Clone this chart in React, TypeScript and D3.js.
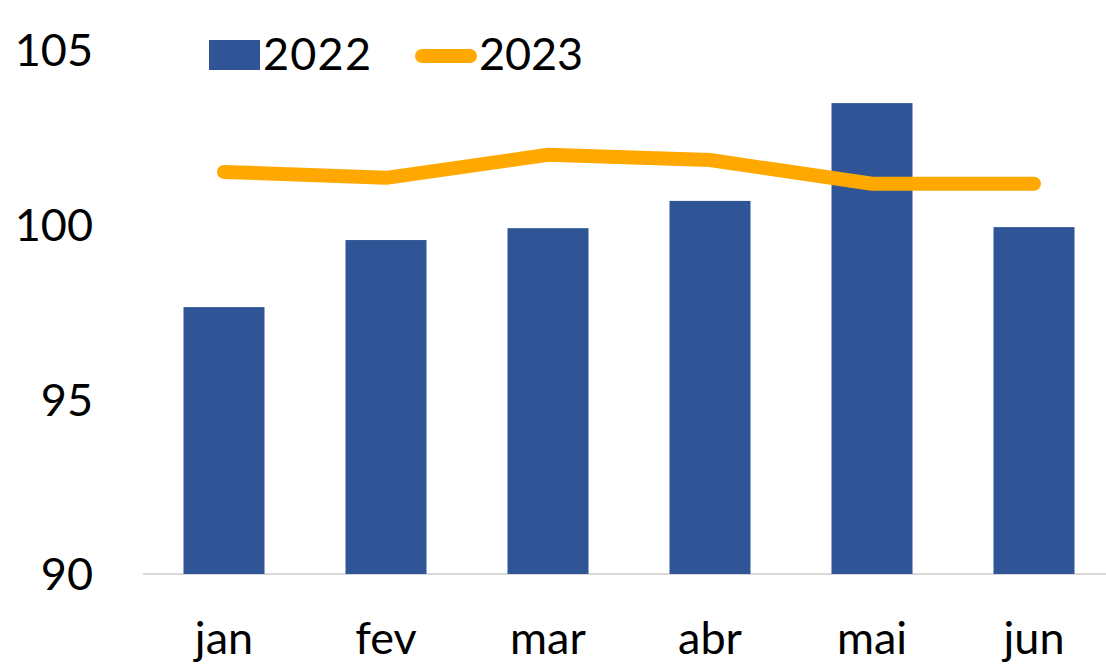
import React, { useEffect, useRef } from "react";
import * as d3 from "d3";

const months = ["jan", "fev", "mar", "abr", "mai", "jun"];
const values2022 = [97.64, 99.56, 99.9, 100.68, 103.48, 99.93];
const values2023 = [101.51, 101.34, 102.0, 101.85, 101.17, 101.17];
const yTicks = [90, 95, 100, 105];

const W = 1106;
const H = 665;
const FONT = "Lato, 'Open Sans', sans-serif";

export default function App() {
  const ref = useRef<SVGSVGElement>(null);

  useEffect(() => {
    const svg = d3.select(ref.current);
    svg.selectAll("*").remove();

    const x = d3.scaleBand<string>()
      .domain(months)
      .range([143, 1115])
      .paddingInner(0.5)
      .paddingOuter(0.25);
    const y = d3.scaleLinear().domain([90, 105]).range([574, 50]);

    // baseline
    svg.append("line")
      .attr("x1", 143).attr("x2", W)
      .attr("y1", y(90)).attr("y2", y(90))
      .attr("stroke", "#d9d9d9").attr("stroke-width", 2);

    // bars 2022
    svg.append("g").selectAll("rect")
      .data(values2022)
      .join("rect")
      .attr("x", (d, i) => x(months[i])!)
      .attr("width", x.bandwidth())
      .attr("y", d => y(d))
      .attr("height", d => y(90) - y(d))
      .attr("fill", "#2f5597");

    // line 2023
    svg.append("path")
      .datum(values2023)
      .attr("fill", "none")
      .attr("stroke", "#ffa800")
      .attr("stroke-width", 14)
      .attr("stroke-linecap", "round")
      .attr("stroke-linejoin", "round")
      .attr("d", d3.line<number>()
        .x((d, i) => x(months[i])! + x.bandwidth() / 2)
        .y(d => y(d)));

    // y tick labels
    svg.append("g").selectAll("text")
      .data(yTicks)
      .join("text")
      .attr("x", 93)
      .attr("y", d => y(d))
      .attr("dy", "0.36em")
      .attr("text-anchor", "end")
      .attr("font-family", FONT)
      .attr("font-size", 45)
      .attr("fill", "#000")
      .text(d => d);

    // x labels
    svg.append("g").selectAll("text")
      .data(months)
      .join("text")
      .attr("x", d => x(d)! + x.bandwidth() / 2)
      .attr("y", 654)
      .attr("text-anchor", "middle")
      .attr("font-family", FONT)
      .attr("font-size", 45)
      .attr("fill", "#000")
      .text(d => d);

    // legend
    const lg = svg.append("g");
    lg.append("rect")
      .attr("x", 209).attr("y", 40).attr("width", 51).attr("height", 30)
      .attr("fill", "#2f5597");
    lg.append("text")
      .attr("x", 263).attr("y", 70)
      .attr("font-family", FONT).attr("font-size", 45)
      .attr("textLength", 108)
      .text("2022");
    lg.append("line")
      .attr("x1", 422).attr("x2", 470)
      .attr("y1", 56).attr("y2", 56)
      .attr("stroke", "#ffa800").attr("stroke-width", 14)
      .attr("stroke-linecap", "round");
    lg.append("text")
      .attr("x", 479).attr("y", 70)
      .attr("font-family", FONT).attr("font-size", 45)
      .attr("textLength", 104)
      .text("2023");
  }, []);

  return (
    <svg
      ref={ref}
      width={W}
      height={H}
      style={{ position: "absolute", left: 0, top: 0, background: "#fff" }}
    />
  );
}
